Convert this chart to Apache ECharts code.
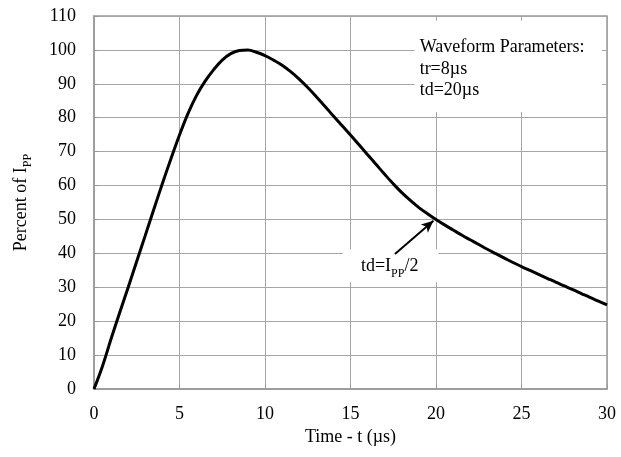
<!DOCTYPE html>
<html><head><meta charset="utf-8">
<script src="https://cdn.jsdelivr.net/npm/echarts@6/dist/echarts.min.js"></script>
<style>html,body{margin:0;padding:0;background:#fff}#c{width:621px;height:457px}</style>
</head><body><div id="c"></div>
<script>
const times = [0,0.5,1,1.5,2,2.5,3,3.5,4,4.5,5,5.5,6,6.5,7,7.5,8,8.5,9,9.5,10,10.5,11,11.5,12,12.5,13,13.5,14,14.5,15,15.5,16,16.5,17,17.5,18,18.5,19,19.5,20,20.5,21,21.5,22,22.5,23,23.5,24,24.5,25,25.5,26,26.5,27,27.5,28,28.5,29,29.5,30];
const percent = [0,6.8,14.8,22.5,30,37.7,45.3,53,60.6,67.9,74.9,81.3,86.6,90.8,94.2,97,98.9,99.8,100,99.3,98.3,97,95.5,93.6,91.4,88.9,86.2,83.4,80.5,77.7,74.9,72,69.1,66.2,63.3,60.5,57.9,55.6,53.5,51.7,50,48.4,46.9,45.4,44,42.6,41.2,39.9,38.6,37.3,36.1,34.95,33.8,32.65,31.5,30.4,29.3,28.15,27,25.9,24.8];
const xName = 'Time - t (\u00b5s)';
const yName = 'Percent of I{sub|PP}';
const paramLines = ['Waveform Parameters:', 'tr=8\u00b5s', 'td=20\u00b5s'];
const tdLabel = 'td=I{sub|PP}/2';
const arrowFrom = [17.6, 39.8];
const arrowTo = [19.85, 49.6];

const FONT = '"Liberation Serif","Times New Roman",serif';
const GRID = '#a6a6a6';
const chart = echarts.init(document.getElementById('c'), null, {renderer:'canvas'});
const subStyle = {fontFamily: FONT, fontSize: 12, color:'#000', verticalAlign:'bottom', padding:[0,0,-4,0]};
chart.setOption({
  animation: false,
  backgroundColor: '#fff',
  grid: {left: 94, top: 16, right: 14, bottom: 68, show: true, borderColor: '#999', borderWidth: 1.5},
  xAxis: {
    type: 'value', min: 0, max: 30, interval: 5,
    name: xName, nameLocation: 'middle', nameGap: 30,
    nameTextStyle: {fontFamily: FONT, fontSize: 18, color: '#000'},
    axisLine: {lineStyle: {color: '#999', width: 1.5}},
    axisTick: {inside: true, length: 5, lineStyle: {color: '#999'}},
    axisLabel: {fontFamily: FONT, fontSize: 18, color: '#000', margin: 16},
    splitLine: {show: true, lineStyle: {color: GRID, width: 1}}
  },
  yAxis: {
    type: 'value', min: 0, max: 110, interval: 10,
    name: yName, nameLocation: 'middle', nameGap: 64,
    nameTextStyle: {fontFamily: FONT, fontSize: 18, color: '#000', rich: {sub: subStyle}},
    axisLine: {show: true, lineStyle: {color: '#999', width: 1.5}},
    axisTick: {show: true, inside: true, length: 5, lineStyle: {color: '#999'}},
    axisLabel: {fontFamily: FONT, fontSize: 18, color: '#000', margin: 18},
    splitLine: {show: true, lineStyle: {color: GRID, width: 1}}
  },
  series: [{
    type: 'line', data: times.map((t, i) => [t, percent[i]]),
    smooth: 0.4, symbol: 'none', z: 3,
    lineStyle: {color: '#000', width: 3},
    markLine: {
      silent: true, symbol: ['none', 'arrow'], symbolSize: [8, 12],
      label: {show: false},
      lineStyle: {color: '#000', width: 2, type: 'solid'},
      data: [[{coord: arrowFrom}, {coord: arrowTo}]]
    }
  }]
});
const p1 = chart.convertToPixel({gridIndex: 0}, [18.75, 108.6]);
const p2 = chart.convertToPixel({gridIndex: 0}, [29.7, 81.7]);
const q1 = chart.convertToPixel({gridIndex: 0}, [14.55, 41.2]);
const q2 = chart.convertToPixel({gridIndex: 0}, [20.15, 31.5]);
chart.setOption({
  graphic: [
    {type: 'rect', z: 1, shape: {x: p1[0], y: p1[1], width: p2[0]-p1[0], height: p2[1]-p1[1]}, style: {fill: '#fff'}},
    {type: 'text', z: 5, left: p1[0] + 5, top: p1[1] + 16, style: {text: paramLines.join('\n'), font: '18px ' + FONT, fill: '#000', lineHeight: 21.5}},
    {type: 'rect', z: 1, shape: {x: q1[0], y: q1[1], width: q2[0]-q1[0], height: q2[1]-q1[1]}, style: {fill: '#fff'}},
    {type: 'text', z: 5, x: (q1[0]+q2[0])/2 - 1, y: (q1[1]+q2[1])/2 + 1, style: {text: tdLabel, font: '18px ' + FONT, fill: '#000', align: 'center', verticalAlign: 'middle', rich: {sub: subStyle}}}
  ]
});
</script></body></html>
